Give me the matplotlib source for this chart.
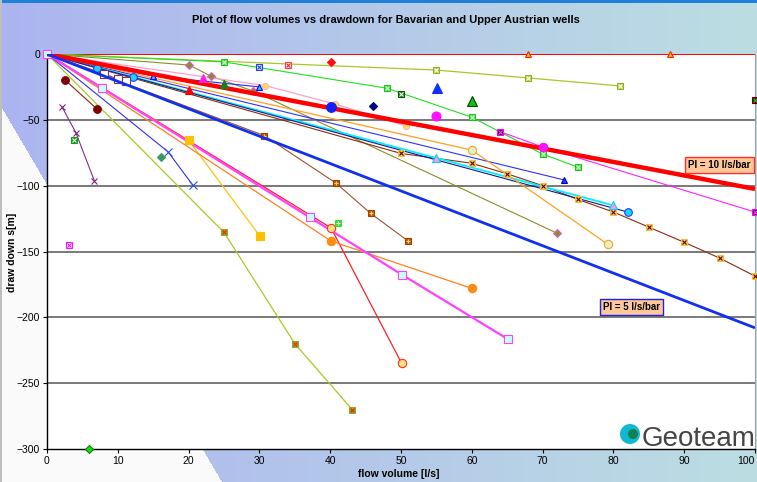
import numpy as np
import matplotlib
matplotlib.use("Agg")
import matplotlib.pyplot as plt
from matplotlib.patches import Circle

plt.rcParams['font.family'] = ['Liberation Sans', 'DejaVu Sans']

# ---- productivity-index reference lines (flow l/s, drawdown m) ----
pi10_q = [0, 100]
pi10_s = [0, -102.5]
pi5_q = [0, 100]
pi5_s = [0, -208]

# ---- well test series: flow volume [l/s] and drawdown [m] ----
top_q = [0, 68, 88, 100]
top_s = [0, 0, 0, 0]
ygx_q = [0, 55, 68, 81]
ygx_s = [0, -12.2, -18.2, -24.3]
lime_q = [0, 25, 48, 60, 70, 75]
lime_s = [0, -6, -26, -48, -76, -86]
olive_q = [0, 20.1, 23.1, 29.1, 72]
olive_s = [0, -8.4, -16.7, -28.1, -136]
pink_q = [0, 30.8, 40.7, 50.7]
pink_s = [0, -24, -38, -54.7]
mag_q = [64, 70, 100]
mag_s = [-59, -70.6, -120]
brownx_q = [0, 50, 60, 65, 70, 75, 80, 85, 90, 95, 100]
brownx_s = [0, -75.5, -83, -91, -100, -110.5, -120, -131.5, -143, -155, -168.7]
cyan_q = [0, 55, 80]
cyan_s = [0, -79, -115]
navy_q = [0, 7.1, 12.1, 82]
navy_s = [0, -10.6, -17.6, -120]
bluel_q = [0, 73]
bluel_s = [0, -95.6]
blues_q = [0, 15, 30]
blues_s = [0, -16.7, -25]
orange_q = [0, 60, 79.2]
orange_s = [0, -73, -144.5]
brownsq_q = [0, 30.7, 40.8, 45.7, 51]
brownsq_s = [0, -62, -98, -121, -142]
gold_q = [0, 20, 30.1]
gold_s = [0, -65.5, -138.5]
magsq_q = [0, 7.7, 37.1, 50.1, 65.1]
magsq_s = [0, -25.6, -124, -167.5, -216.6]
redc_q = [0, 40.1, 50.1]
redc_s = [0, -132, -235]
orc_q = [0, 40.1, 60]
orc_s = [0, -142, -178]
ygr_q = [0, 25, 35, 43.1]
ygr_s = [0, -135.5, -220, -270]
bluex_q = [0, 17.1, 20.6]
bluex_s = [0, -74.3, -99.7]
purx_q = [2.1, 4.1, 6.7]
purx_s = [-40, -60, -96.5]
dred_q = [2.6, 7.1]
dred_s = [-20, -42]
pursq_q = [0, 8.1, 10, 11.2]
pursq_s = [0, -15.2, -19, -20.5]

# single-measurement wells
single_q = [30, 34, 40.1, 22, 25, 20, 40.1, 46, 55.1, 60, 55, 50, 41.1, 16.1, 3.8, 3.1, 5.9, 100, 70]
single_s = [-9.9, -8.4, -6.1, -18.3, -23, -27.4, -40.3, -39.3, -25.8, -35.7, -47, -30.4, -128, -78, -65, -145, -300, -35, -70.6]

x_ticks = list(range(0, 101, 10))
y_ticks = list(range(-300, 1, 50))

W, H = 757, 482
fig = plt.figure(figsize=(W / 100, H / 100), dpi=100)

# background panel: lavender-to-teal gradient with a white lower-left wedge
bg = fig.add_axes([0, 0, 1, 1], zorder=-10)
xx, yy = np.meshgrid(np.arange(W), np.arange(H))
t = xx / (W - 1)
left = np.array([172, 180, 240]) / 255
right = np.array([188, 222, 226]) / 255
img = left[None, None, :] * (1 - t[..., None]) + right[None, None, :] * t[..., None]
white = yy > 105 + 1.7 * xx
img[white] = np.array([250, 250, 250]) / 255
img[:3, :] = np.array([30, 128, 216]) / 255
img[:, :2] = np.array([190, 190, 190]) / 255
bg.imshow(img, aspect='auto', extent=[0, 1, 0, 1], interpolation='nearest')
bg.set_axis_off()

ax = fig.add_axes([47 / W, 1 - 449 / H, 708 / W, 395 / H])
ax.set_facecolor('white')
ax.set_xlim(0, 100)
ax.set_ylim(-300, 0)
ax.set_xticks(x_ticks)
ax.set_xticklabels([str(v) for v in x_ticks])
ax.set_yticks(y_ticks)
ax.tick_params(labelsize=7.5, length=3, width=0.8, pad=2)
# keep the last x label inside the figure
ax.get_xticklabels()[-1].set_horizontalalignment('right')
for yv in range(-250, 0, 50):
    ax.axhline(yv, color='#555555', lw=1.1, zorder=1)
ax.spines['top'].set_visible(False)
ax.spines['right'].set_color('#a0a0a0')
ax.spines['left'].set_linewidth(1.0)
ax.spines['bottom'].set_linewidth(1.0)


def draw(q, s, color, lw=0.8, marker=None, mfc='none', mec=None, ms=4.5,
         cross=None, z=3, idx=None):
    if color is not None and len(q) > 1:
        ax.plot(q, s, color=color, lw=lw, zorder=z, solid_capstyle='butt')
    if marker:
        if idx is None:
            start = 1 if (q[0] == 0 and s[0] == 0) else 0
            idx = list(range(start, len(q)))
        qm = [q[i] for i in idx]
        sm = [s[i] for i in idx]
        ax.plot(qm, sm, ls='none', marker=marker, mfc=mfc, mec=mec or color,
                ms=ms, mew=0.8, zorder=z + 0.5, clip_on=False)
        if cross:
            sym, col = cross
            ax.plot(qm, sm, ls='none', marker=sym, color=col, ms=ms * 0.65,
                    mew=0.8, zorder=z + 0.6, clip_on=False)


draw(top_q, top_s, '#ff0000', lw=1.4, marker='^', mfc='#ffc020', mec='#ff2000', ms=5, idx=[1, 2])
draw(ygx_q, ygx_s, '#a8c828', lw=0.9, marker='s', mfc='#b0d040', mec='#90b020', cross=('x', 'white'))
draw(lime_q, lime_s, '#20e020', lw=0.8, marker='s', mfc='#40e040', mec='#20c020', cross=('x', '#e0ffe0'))
draw(olive_q, olive_s, '#8c8c28', lw=0.8, marker='D', mfc='#8c8c30', mec='#e060d0', ms=4.5)
draw(pink_q, pink_s, '#ffa0c8', lw=0.9, marker='o', mfc='#ffe040', mec='#ffb0c0', ms=4.5)
draw(mag_q, mag_s, '#ff20ff', lw=0.8, marker='s', mfc='#200020', mec='#ff00ff', cross=('x', '#ff40ff'))
draw(brownx_q, brownx_s, '#8b2a10', lw=0.8, marker='s', mfc='#f8d060', mec='#f0c040', cross=('x', '#600000'))
draw(cyan_q, cyan_s, '#00f0ff', lw=1.3, marker='^', mfc='#ff9ccc', mec='#00d0ff', ms=5.5)
draw(navy_q, navy_s, '#1a1a80', lw=0.8, marker='o', mfc='#20d0ff', mec='#2040ff', ms=5.5)
draw(bluel_q, bluel_s, '#3030ff', lw=0.8, marker='^', mfc='#2040ff', mec='#0000c0', ms=5)
draw(blues_q, blues_s, '#2828ff', lw=0.8, marker='^', mfc='#30c0ff', mec='#0000ff', ms=5)
draw(orange_q, orange_s, '#ffa020', lw=0.9, marker='o', mfc='#d8f4c8', mec='#ffa020', ms=6)
draw(brownsq_q, brownsq_s, '#a0522d', lw=0.8, marker='s', mfc='#c05a00', mec='#a04000', cross=('+', '#ffd080'))
draw(gold_q, gold_s, '#ffc010', lw=0.9, marker='s', mfc='#ffc000', mec='#ffc000', ms=5.5)
draw(magsq_q, magsq_s, '#ff40ff', lw=1.6, marker='s', mfc='#c8ffff', mec='#ff40ff', ms=6,
     idx=list(range(len(magsq_q))), z=3.2)
draw(redc_q, redc_s, '#ff2020', lw=0.9, marker='o', mfc='#ffe080', mec='#ff3020', ms=6)
draw(orc_q, orc_s, '#ff8020', lw=0.9, marker='o', mfc='#ff8c10', mec='#ff8c10', ms=6)
draw(ygr_q, ygr_s, '#a8c828', lw=0.9, marker='s', mfc='#90a830', mec='#90a830', cross=('x', '#ff2000'))
draw(bluex_q, bluex_s, '#3030e8', lw=0.8, marker='x', mec='#3050e0', ms=6)
draw(purx_q, purx_s, '#902890', lw=0.8, marker='x', mec='#802080', ms=5)
draw(dred_q, dred_s, '#902010', lw=0.8, marker='o', mfc='#800000', mec='#800000', ms=5.5)
draw(pursq_q, pursq_s, '#803060', lw=0.8, marker='s', mfc='white', mec='#803060', ms=5.5)

# thick PI guide lines
ax.plot(pi10_q, pi10_s, color='#ff0000', lw=3.2, zorder=4, solid_capstyle='butt')
ax.plot(pi5_q, pi5_s, color='#1030f0', lw=2.0, zorder=4, solid_capstyle='butt')

# single-measurement markers
single_style = [
    dict(marker='s', mfc='white', mec='#2040ff', cross=('x', '#2040ff')),
    dict(marker='s', mfc='white', mec='#ff4040', cross=('x', '#ff2020')),
    dict(marker='D', mfc='#ff1010', mec='#ff1010'),
    dict(marker='^', mfc='#ff20e0', mec='#ff20e0', ms=6),
    dict(marker='^', mfc='#108020', mec='#108020', ms=6),
    dict(marker='^', mfc='#ff0000', mec='#ff0000', ms=6),
    dict(marker='o', mfc='#1020ff', mec='#1020ff', ms=7),
    dict(marker='D', mfc='#000080', mec='#000080'),
    dict(marker='^', mfc='#1030ff', mec='#1030ff', ms=6.5),
    dict(marker='^', mfc='#10c010', mec='#004000', ms=6.5),
    dict(marker='o', mfc='#ff10ff', mec='#ff10ff', ms=6.5),
    dict(marker='s', mfc='#108010', mec='#006000', cross=('x', 'white')),
    dict(marker='s', mfc='#30e030', mec='#30e030', cross=('+', 'white')),
    dict(marker='D', mfc='#3a9a60', mec='#3a9a60'),
    dict(marker='s', mfc='#10a010', mec='#10a010', cross=('x', 'white')),
    dict(marker='s', mfc='white', mec='#ff10ff', cross=('x', '#ff10ff')),
    dict(marker='D', mfc='#10e010', mec='#108010'),
    dict(marker='s', mfc='#600000', mec='#600000', cross=('x', '#20c020')),
    dict(marker='o', mfc='#ff10ff', mec='#ff10ff', ms=6),
]
for q, s, st in zip(single_q, single_s, single_style):
    st = dict(st)
    draw([q], [s], None, marker=st.pop('marker'), mfc=st.pop('mfc'), mec=st.pop('mec'),
         ms=st.pop('ms', 4.5), cross=st.pop('cross', None), z=5)

# PI labels
ax.text(95, -84.5, 'PI = 10 l/s/bar', fontsize=7, fontweight='bold', ha='center', va='center',
        zorder=7, bbox=dict(boxstyle='square,pad=0.3', fc='#ffc898', ec='#ff3030', lw=1))
ax.text(82.6, -192, 'PI = 5 l/s/bar', fontsize=7, fontweight='bold', ha='center', va='center',
        zorder=7, bbox=dict(boxstyle='square,pad=0.3', fc='#ffc898', ec='#2020e0', lw=1))

# company mark
fig.patches.append(Circle((6.30, (H - 434) / 100), 0.10, transform=fig.dpi_scale_trans,
                          fc='#10b8d0', ec='none', zorder=8))
fig.patches.append(Circle((6.33, (H - 434) / 100), 0.05, transform=fig.dpi_scale_trans,
                          fc='#108050', ec='none', zorder=8))
fig.text(642 / W, 1 - 446 / H, 'Geoteam', fontsize=20, color='#454545', ha='left', va='baseline',
         zorder=9)

fig.text(386 / W, 1 - 20 / H, 'Plot of flow volumes vs drawdown for Bavarian and Upper Austrian wells',
         fontsize=8, fontweight='bold', ha='center', va='center')
fig.text(399 / W, 1 - 474 / H, 'flow volume [l/s]', fontsize=7.5, fontweight='bold',
         ha='center', va='center')
fig.text(12 / W, 1 - 252 / H, 'draw down s[m]', fontsize=7.5, fontweight='bold',
         ha='center', va='center', rotation=90)

fig.savefig('out.png', dpi=100)
